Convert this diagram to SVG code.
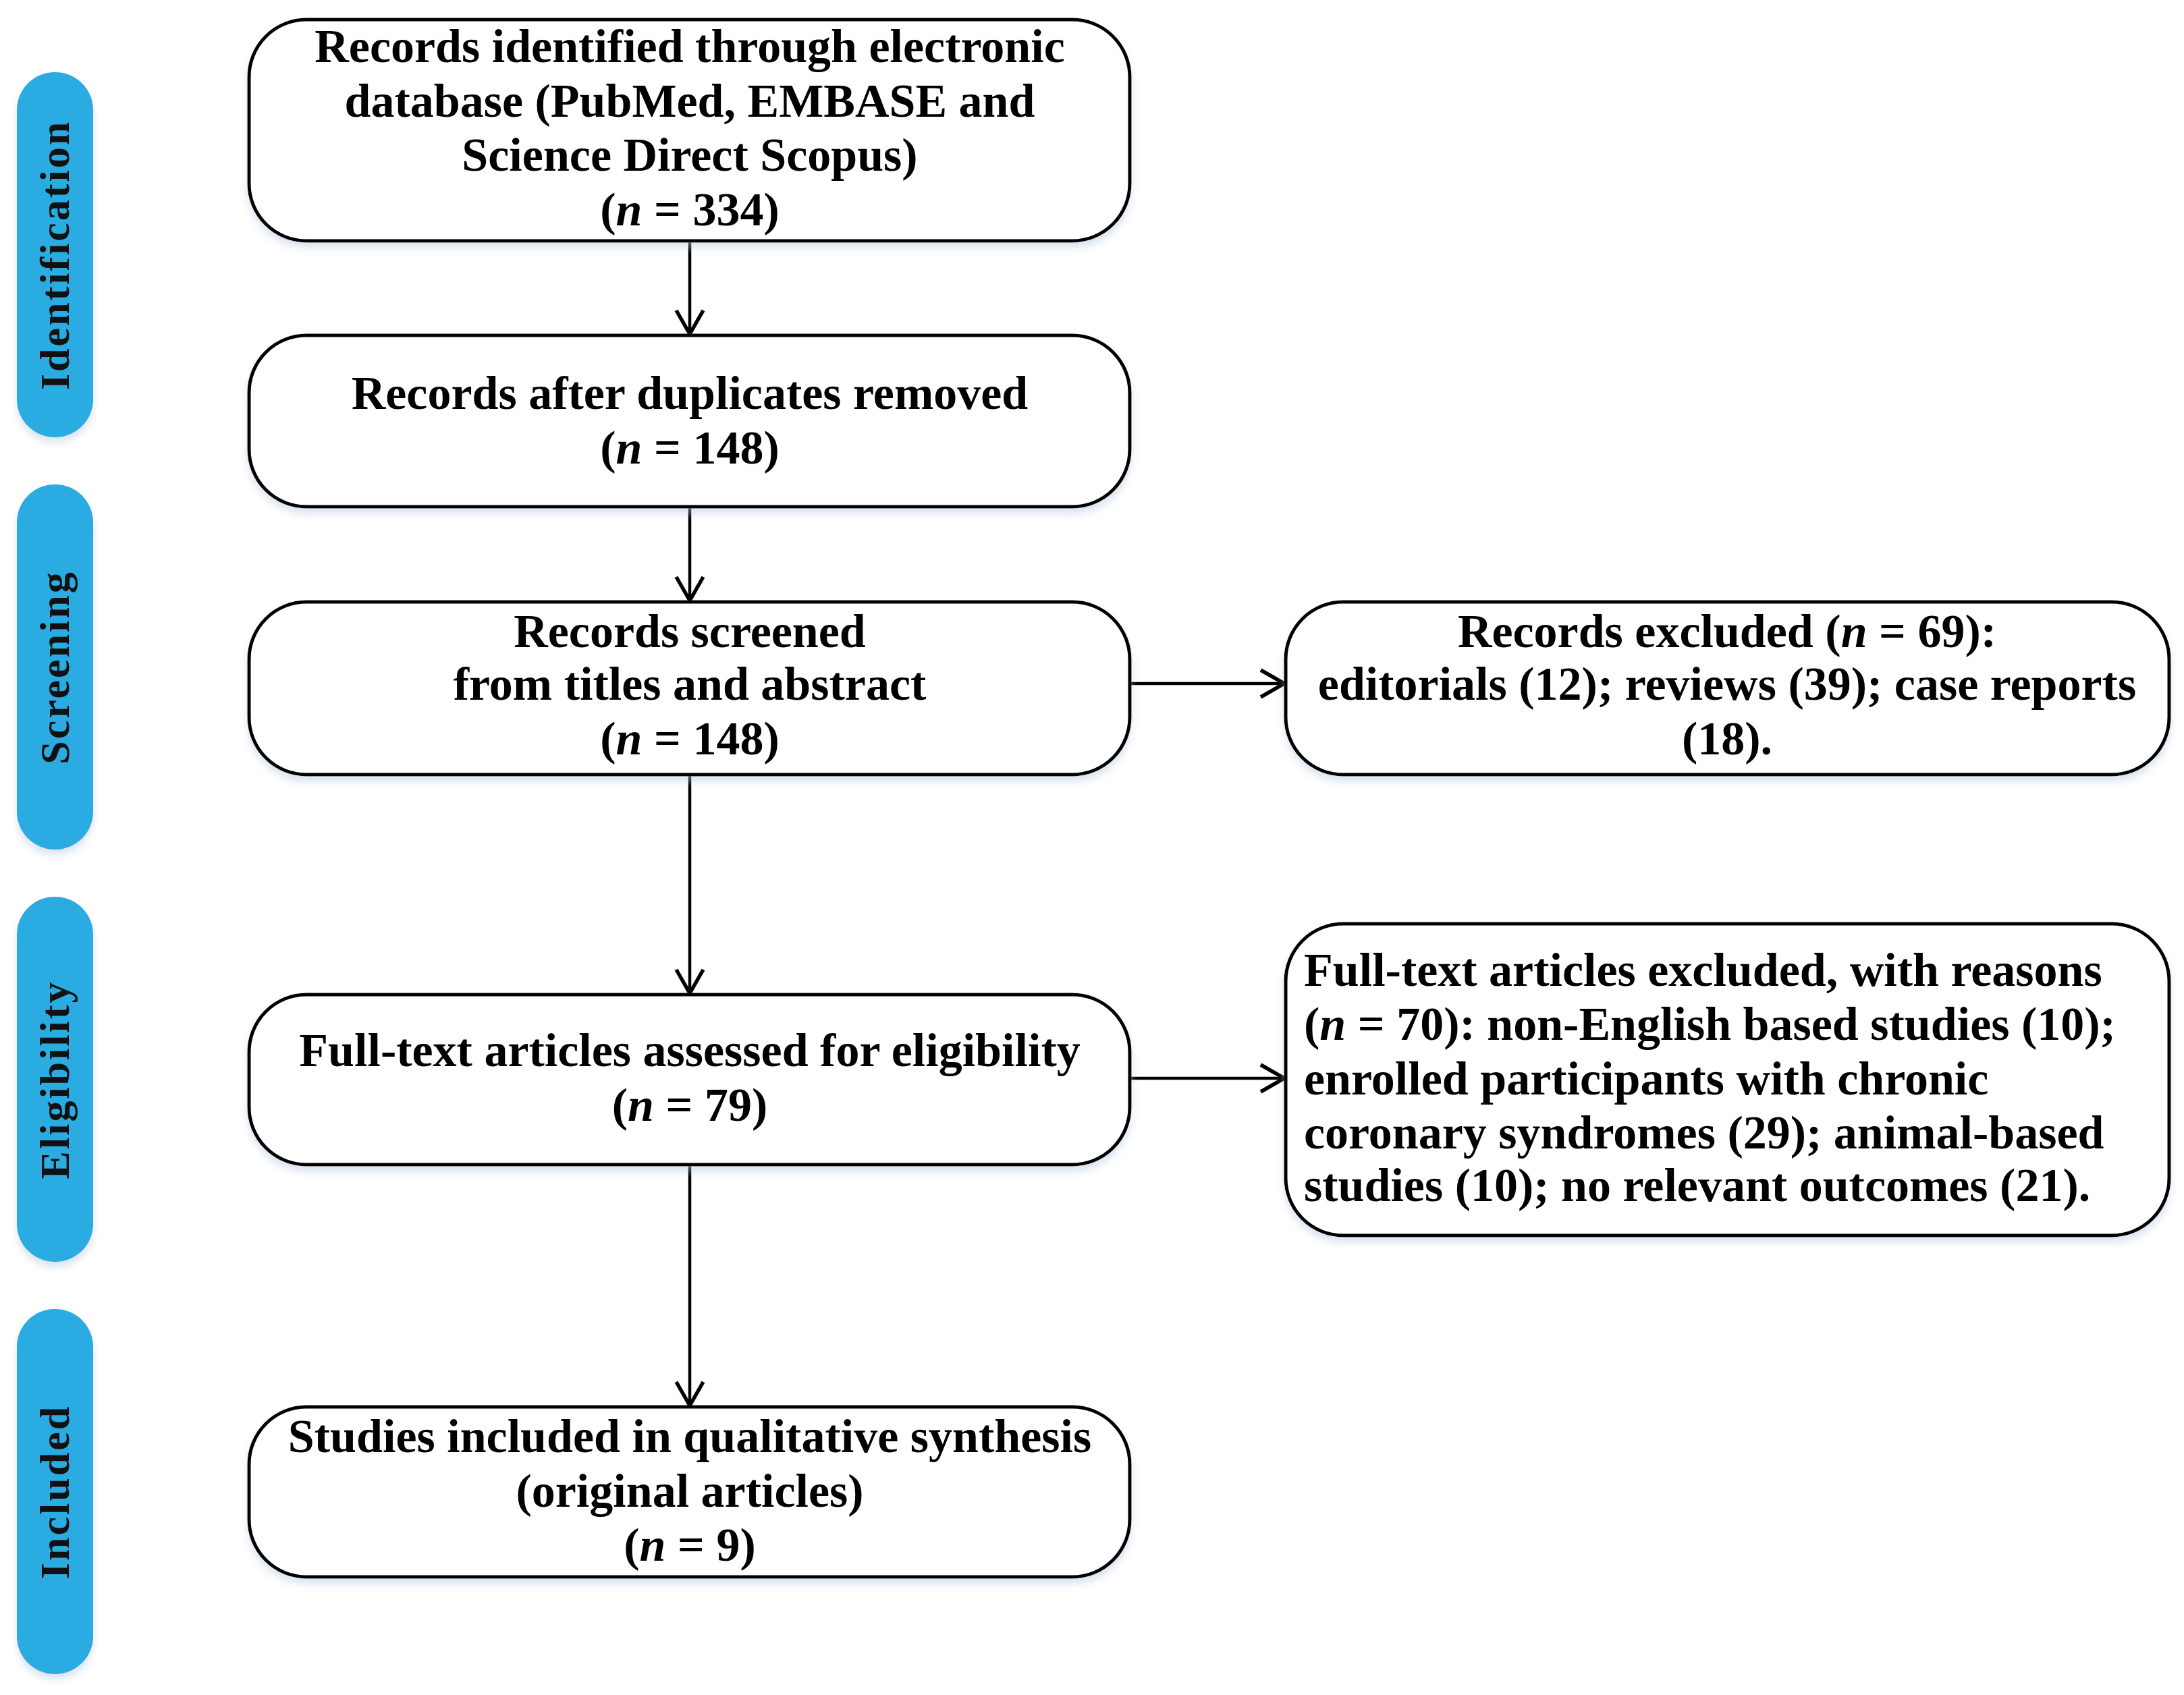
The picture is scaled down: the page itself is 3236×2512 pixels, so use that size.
<svg xmlns="http://www.w3.org/2000/svg" width="3236" height="2512" viewBox="0 0 3236 2512">
<defs>
<style>
.box{fill:#ffffff;stroke:#000000;stroke-width:5}
.pill{fill:#29abe2}
.lbl{font-family:"Liberation Serif","DejaVu Serif",serif;font-size:70px;font-weight:bold;fill:#000;text-anchor:middle}
.lft{font-family:"Liberation Serif","DejaVu Serif",serif;font-size:70px;font-weight:bold;fill:#000;text-anchor:start}
.side{font-family:"Liberation Serif","DejaVu Serif",serif;font-size:62px;font-weight:bold;fill:#111;text-anchor:middle;letter-spacing:3px}
.con{fill:none;stroke:#000;stroke-width:4.5}
</style>
<marker id="arr" viewBox="0 0 44 48" refX="41" refY="24" markerWidth="44" markerHeight="48" markerUnits="userSpaceOnUse" orient="auto">
<path d="M6,4 L41,24 L6,44" fill="none" stroke="#000" stroke-width="5.5"/>
</marker>
<filter id="sh" x="-5%" y="-5%" width="110%" height="115%">
<feGaussianBlur in="SourceAlpha" stdDeviation="6"/>
<feOffset dx="0" dy="8" result="b"/>
<feFlood flood-color="#b8c8e0" flood-opacity="0.5"/>
<feComposite in2="b" operator="in"/>
<feMerge><feMergeNode/><feMergeNode in="SourceGraphic"/></feMerge>
</filter>
</defs>
<rect width="3236" height="2512" fill="#ffffff"/>

<g id="stage-identification">
<rect class="pill" x="25" y="107" width="113" height="541" rx="56" filter="url(#sh)"/>
<text class="side" transform="translate(102,378) rotate(-90)">Identification</text>
</g>
<g id="stage-screening">
<rect class="pill" x="25" y="718" width="113" height="541" rx="56" filter="url(#sh)"/>
<text class="side" transform="translate(102,989) rotate(-90)">Screening</text>
</g>
<g id="stage-eligibility">
<rect class="pill" x="25" y="1329" width="113" height="541" rx="56" filter="url(#sh)"/>
<text class="side" transform="translate(102,1600) rotate(-90)">Eligibility</text>
</g>
<g id="stage-included">
<rect class="pill" x="25" y="1940" width="113" height="541" rx="56" filter="url(#sh)"/>
<text class="side" transform="translate(102,2211) rotate(-90)">Included</text>
</g>

<g id="connectors">
<line class="con" x1="1022" y1="357" x2="1022" y2="495" marker-end="url(#arr)"/>
<line class="con" x1="1022" y1="751" x2="1022" y2="890" marker-end="url(#arr)"/>
<line class="con" x1="1022" y1="1148" x2="1022" y2="1472" marker-end="url(#arr)"/>
<line class="con" x1="1022" y1="1726" x2="1022" y2="2083" marker-end="url(#arr)"/>
<line class="con" x1="1674" y1="1013" x2="1903" y2="1013" marker-end="url(#arr)"/>
<line class="con" x1="1674" y1="1598" x2="1903" y2="1598" marker-end="url(#arr)"/>
</g>

<g id="node-identified">
<rect class="box" x="369" y="29" width="1305" height="328" rx="85" filter="url(#sh)"/>
<text class="lbl" x="1022" y="92">Records identified through electronic</text>
<text class="lbl" x="1022" y="173">database (PubMed, EMBASE and</text>
<text class="lbl" x="1022" y="253">Science Direct Scopus)</text>
<text class="lbl" x="1022" y="334">(<tspan font-style="italic">n</tspan> = 334)</text>
</g>

<g id="node-duplicates">
<rect class="box" x="369" y="497" width="1305" height="254" rx="85" filter="url(#sh)"/>
<text class="lbl" x="1022" y="606">Records after duplicates removed</text>
<text class="lbl" x="1022" y="687">(<tspan font-style="italic">n</tspan> = 148)</text>
</g>

<g id="node-screened">
<rect class="box" x="369" y="892" width="1305" height="256" rx="85" filter="url(#sh)"/>
<text class="lbl" x="1022" y="959">Records screened</text>
<text class="lbl" x="1022" y="1037">from titles and abstract</text>
<text class="lbl" x="1022" y="1118">(<tspan font-style="italic">n</tspan> = 148)</text>
</g>

<g id="node-excluded">
<rect class="box" x="1905" y="892" width="1309" height="256" rx="85" filter="url(#sh)"/>
<text class="lbl" x="2559" y="959">Records excluded (<tspan font-style="italic">n</tspan> = 69):</text>
<text class="lbl" x="2559" y="1037">editorials (12); reviews (39); case reports</text>
<text class="lbl" x="2559" y="1118">(18).</text>
</g>

<g id="node-fulltext">
<rect class="box" x="369" y="1474" width="1305" height="252" rx="85" filter="url(#sh)"/>
<text class="lbl" x="1022" y="1580">Full-text articles assessed for eligibility</text>
<text class="lbl" x="1022" y="1661">(<tspan font-style="italic">n</tspan> = 79)</text>
</g>

<g id="node-fulltext-excluded">
<rect class="box" x="1905" y="1369" width="1309" height="462" rx="85" filter="url(#sh)"/>
<text class="lft" x="1932" y="1461">Full-text articles excluded, with reasons</text>
<text class="lft" x="1932" y="1541">(<tspan font-style="italic">n</tspan> = 70): non-English based studies (10);</text>
<text class="lft" x="1932" y="1622">enrolled participants with chronic</text>
<text class="lft" x="1932" y="1702">coronary syndromes (29); animal-based</text>
<text class="lft" x="1932" y="1780">studies (10); no relevant outcomes (21).</text>
</g>

<g id="node-included">
<rect class="box" x="369" y="2085" width="1305" height="252" rx="85" filter="url(#sh)"/>
<text class="lbl" x="1022" y="2152">Studies included in qualitative synthesis</text>
<text class="lbl" x="1022" y="2233">(original articles)</text>
<text class="lbl" x="1022" y="2313">(<tspan font-style="italic">n</tspan> = 9)</text>
</g>
</svg>
